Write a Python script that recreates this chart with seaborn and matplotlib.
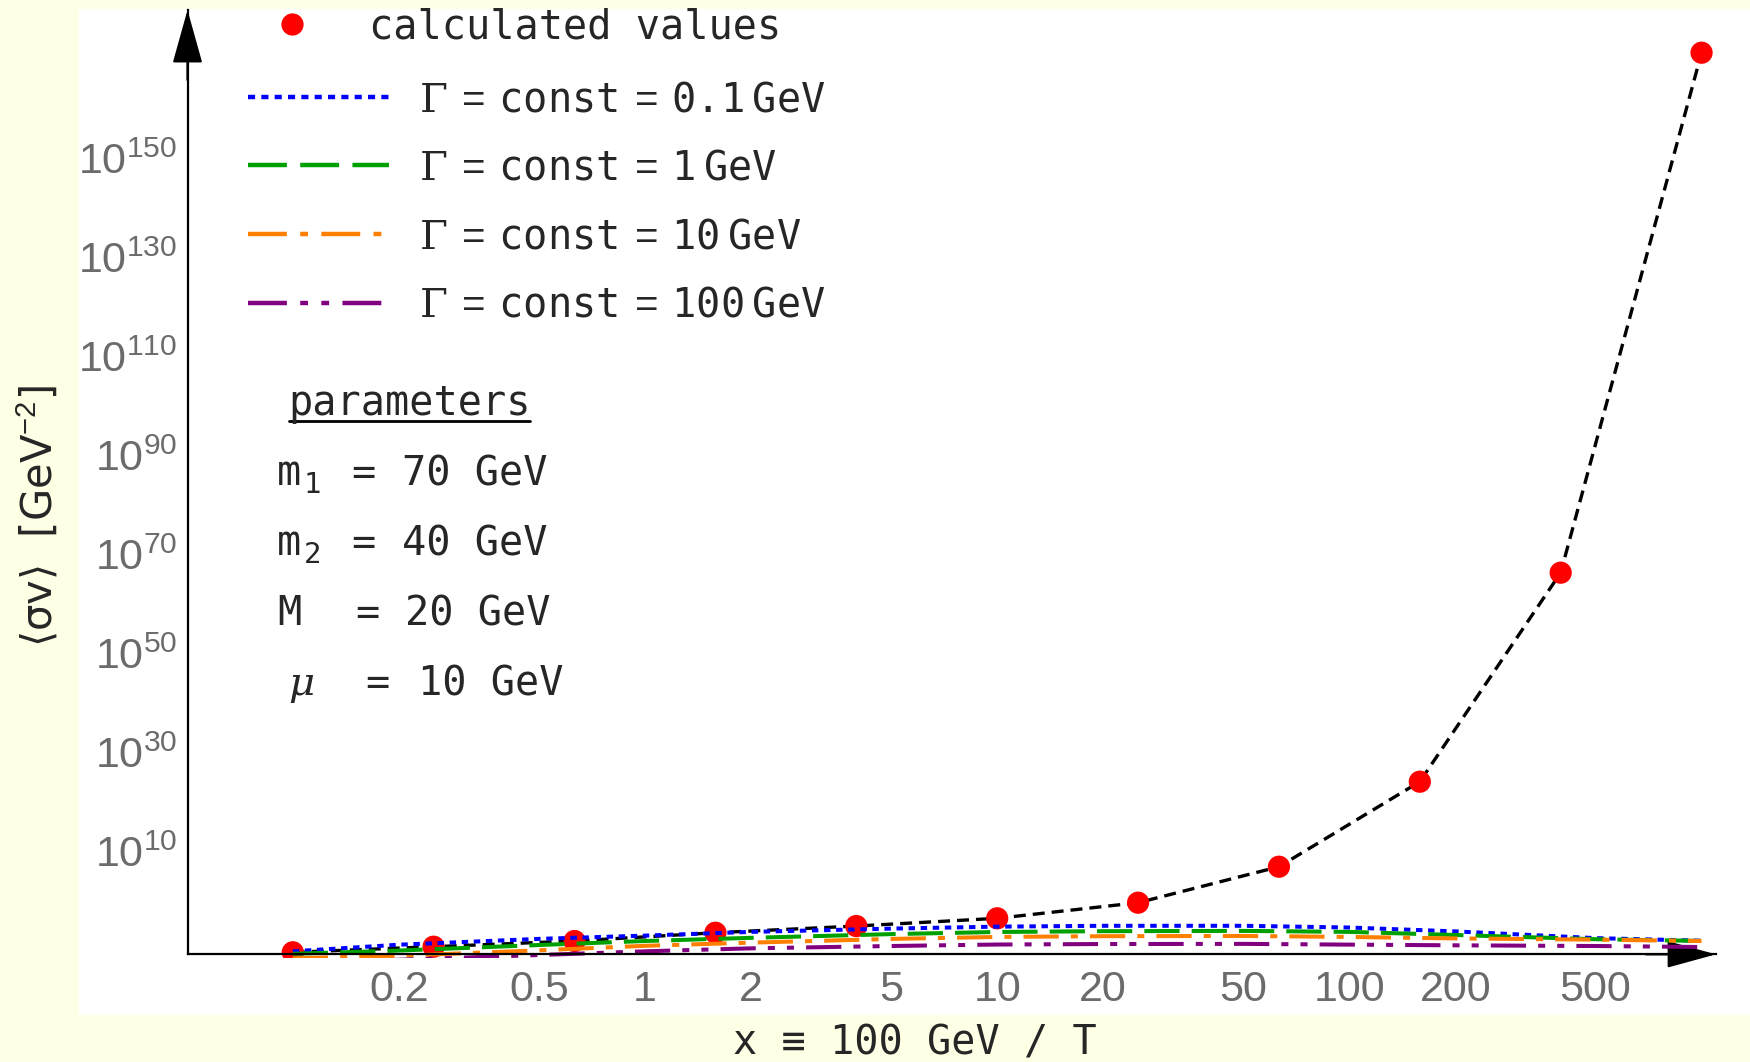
import numpy as np
import pandas as pd
import matplotlib
matplotlib.use("Agg")
import matplotlib.pyplot as plt
import seaborn as sns
from matplotlib.patches import Rectangle
from matplotlib.lines import Line2D
from matplotlib.font_manager import FontProperties
from matplotlib.ticker import NullLocator

# ---------------- data (log10 of <sigma v> in GeV^-2) ----------------
x_points = [0.1, 0.251, 0.631, 1.585, 3.981, 10.0, 25.12, 63.1, 158.5, 398.1, 1000.0]
log_sigma_points = [-10.3, -9.17, -8.02, -6.35, -5.0, -3.44, -0.29, 6.97, 24.13, 66.31, 171.25]

x_curve = [0.1, 0.2, 0.5, 1, 2, 5, 10, 20, 50, 100, 200, 500, 1000]
log_sigma_g01 = [-10.1, -8.77, -7.59, -6.93, -6.18, -5.52, -5.12, -4.95, -4.95, -5.3, -6.08, -7.44, -7.96]
log_sigma_g1 = [-10.6, -9.95, -8.83, -8.02, -7.38, -6.63, -6.2, -6.04, -5.98, -6.18, -6.81, -7.66, -8.0]
log_sigma_g10 = [-11.5, -11.0, -9.9, -8.99, -8.35, -7.6, -7.2, -7.05, -7.0, -7.2, -7.5, -7.74, -8.02]
log_sigma_g100 = [-12.5, -11.8, -10.85, -10.1, -9.5, -9.03, -8.73, -8.63, -8.6, -8.75, -8.89, -9.03, -9.23]

gamma_labels = ["0.1", "1", "10", "100"]
point_label = "calculated values"

xtick_values = [0.2, 0.5, 1, 2, 5, 10, 20, 50, 100, 200, 500]
xtick_labels = ["0.2", "0.5", "1", "2", "5", "10", "20", "50", "100", "200", "500"]
ytick_exponents = [10, 30, 50, 70, 90, 110, 130, 150]

param_symbols = ["m", "m", "M", "\u03bc"]
param_subscripts = ["1", "2", "", ""]
param_values = ["70 GeV", "40 GeV", "20 GeV", "10 GeV"]

# ---------------- style ----------------
sns.set_theme(style="white")
plt.rcParams["font.family"] = ["Liberation Sans", "DejaVu Sans"]
plt.rcParams["mathtext.fontset"] = "custom"
plt.rcParams["mathtext.rm"] = "Liberation Sans"
plt.rcParams["mathtext.it"] = "Liberation Sans:italic"
plt.rcParams["mathtext.bf"] = "Liberation Sans:bold"
plt.rcParams["mathtext.tt"] = "DejaVu Sans Mono"
plt.rcParams["mathtext.sf"] = "DejaVu Serif"

BG = "#FFFFE6"
W, H = 1750, 1062


def fx(px):
    return px / W


def fy(py):
    return 1 - py / H


fig = plt.figure(figsize=(W / 100, H / 100), dpi=100, facecolor=BG)
fig.patches.append(Rectangle((fx(79), fy(1015)), fx(1750) - fx(79), fy(8.5) - fy(1015),
                             transform=fig.transFigure, facecolor="white",
                             edgecolor="none", zorder=-5))

AX_L, AX_R, AX_T, AX_B = 187.5, 1716, 10, 958
ax = fig.add_axes([fx(AX_L), fy(AX_B), (AX_R - AX_L) / W, (AX_B - AX_T) / H])
ax.set_zorder(1)
ax.set_facecolor("none")
ax.set_xscale("log")
ax.set_yscale("log")

X_LO, X_HI = -1.299, 3.041
Y_LO, Y_HI = -11.45, 179.87
Y_AXIS = -10.71

# ---------------- marks ----------------
df_pts = pd.DataFrame({"x": x_points, "y": 10.0 ** np.array(log_sigma_points)})
sns.lineplot(data=df_pts, x="x", y="y", ax=ax, color="black", lw=2.4,
             linestyle=(0, (3.6, 2.1)), estimator=None, sort=True, zorder=2)
sns.scatterplot(data=df_pts, x="x", y="y", ax=ax, color="red", s=16 ** 2,
                edgecolor="none", linewidth=0, zorder=3)

curve_styles = [
    ("#0000FF", (0, (1.6, 1.4)), log_sigma_g01),
    ("#00A000", (0, (8.75, 3)), log_sigma_g1),
    ("#FF8000", (0, (8.75, 3, 1.75, 3)), log_sigma_g10),
    ("#800080", (0, (8.75, 3, 1.75, 3, 1.75, 3)), log_sigma_g100),
]
for color, ls, vals in curve_styles:
    dfc = pd.DataFrame({"x": x_curve, "y": 10.0 ** np.array(vals)})
    sns.lineplot(data=dfc, x="x", y="y", ax=ax, color=color, lw=2.9,
                 linestyle=ls, estimator=None, sort=True, zorder=4)

if ax.get_legend() is not None:
    ax.get_legend().remove()

ax.set_xlim(10 ** X_LO, 10 ** X_HI)
ax.set_ylim(10 ** Y_LO, 10 ** Y_HI)
ax.set_xlabel("")
ax.set_ylabel("")

# ---------------- axes ----------------
for s in ["top", "right"]:
    ax.spines[s].set_visible(False)
for s in ["left", "bottom"]:
    ax.spines[s].set_color("black")
    ax.spines[s].set_linewidth(1.6)
    ax.spines[s].set_zorder(5)
ax.spines["bottom"].set_position(("data", 10 ** Y_AXIS))
ax.spines["left"].set_bounds(10 ** Y_AXIS, 10 ** Y_HI)

ax.set_xticks(xtick_values)
ax.set_xticklabels(xtick_labels)
ax.set_yticks([10.0 ** e for e in ytick_exponents])
ax.set_yticklabels([f"$10^{{{e}}}$" for e in ytick_exponents])
ax.xaxis.set_minor_locator(NullLocator())
ax.yaxis.set_minor_locator(NullLocator())
ax.tick_params(axis="both", which="major", direction="in", length=7.2, width=1.2,
               color="#555555", labelcolor="#6B6B6B", labelsize=31)
ax.tick_params(axis="x", pad=11)
ax.tick_params(axis="y", pad=7.5)
ax.grid(False)

ax.annotate("", xy=(0, 1), xycoords="axes fraction",
            xytext=(0, 1 - 70 / (AX_B - AX_T)), textcoords="axes fraction",
            arrowprops=dict(arrowstyle="-|>,head_length=34,head_width=9.5",
                            mutation_scale=1, color="black", lw=1.6,
                            shrinkA=0, shrinkB=0))
ax.annotate("", xy=(1, 10 ** Y_AXIS), xycoords=ax.get_yaxis_transform(),
            xytext=(1 - 70 / (AX_R - AX_L), 10 ** Y_AXIS), textcoords=ax.get_yaxis_transform(),
            arrowprops=dict(arrowstyle="-|>,head_length=31,head_width=8.5",
                            mutation_scale=1, color="black", lw=1.6,
                            shrinkA=0, shrinkB=0))

# ---------------- legends ----------------
mono = FontProperties(family=["DejaVu Sans Mono", "DejaVu Sans"], size=29)
h1 = [Line2D([], [], marker="o", color="red", ms=16, ls="none", markeredgewidth=0)]
leg1 = fig.legend(handles=h1, labels=[point_label], loc="upper left",
                  bbox_to_anchor=(fx(272), fy(7.5)), bbox_transform=fig.transFigure,
                  frameon=False, prop=mono, handlelength=1.0, handletextpad=1.4,
                  borderpad=0, borderaxespad=0)
h2 = [Line2D([], [], color=c, lw=3.2, linestyle=ls) for c, ls, _ in curve_styles]
lab2 = [r"$\mathsf{\Gamma}\:{=}\:\mathtt{const}\:{=}\:\mathtt{" + g + r"}\:\mathtt{GeV}$"
        for g in gamma_labels]
leg2 = fig.legend(handles=h2, labels=lab2, loc="upper left",
                  bbox_to_anchor=(fx(248), fy(80)), bbox_transform=fig.transFigure,
                  frameon=False, prop=mono, handlelength=3.5, handletextpad=0.75,
                  labelspacing=0.71, borderpad=0, borderaxespad=0)

# ---------------- parameters box ----------------
ptitle = fig.text(fx(288), fy(415), "parameters", fontproperties=mono, ha="left", va="baseline")
base_y = [485, 555, 625, 695]
sym_x = [277, 277, 277, 288]
eq_x = [363, 363, 367, 377]
val_x = [402, 402, 405, 418]
for i in range(4):
    if param_symbols[i] == "\u03bc":
        fig.text(fx(sym_x[i]), fy(base_y[i]), param_symbols[i], family="DejaVu Serif",
                 style="italic", size=29, ha="left", va="baseline")
    else:
        fig.text(fx(sym_x[i]), fy(base_y[i]), param_symbols[i], fontproperties=mono,
                 ha="left", va="baseline")
    if param_subscripts[i]:
        fig.text(fx(sym_x[i] + 27), fy(base_y[i] + 8), param_subscripts[i],
                 family="DejaVu Sans Mono", size=21, ha="left", va="baseline")
    fig.text(fx(eq_x[i]), fy(base_y[i]), "=", fontproperties=mono, ha="center", va="baseline")
    fig.text(fx(val_x[i]), fy(base_y[i]), param_values[i], fontproperties=mono,
             ha="left", va="baseline")

# ---------------- axis titles ----------------
fig.text(fx(915), fy(1055), "x \u2261 100 GeV / T", fontproperties=mono,
         ha="center", va="baseline")
fig.text(fx(39), fy(516), "\u27e8\u03c3v\u27e9  [GeV$^{-2}$]", rotation=90,
         ha="center", va="center", size=30, family=["DejaVu Sans"])

# underline the "parameters" heading to its own width
fig.canvas.draw()
bb = ptitle.get_window_extent(renderer=fig.canvas.get_renderer())
fig.add_artist(Line2D([bb.x0 / W + 1 / W, bb.x1 / W - 1 / W], [fy(421), fy(421)],
                      transform=fig.transFigure, color="black", lw=2))

fig.savefig("out.png", dpi=100, facecolor=BG)
